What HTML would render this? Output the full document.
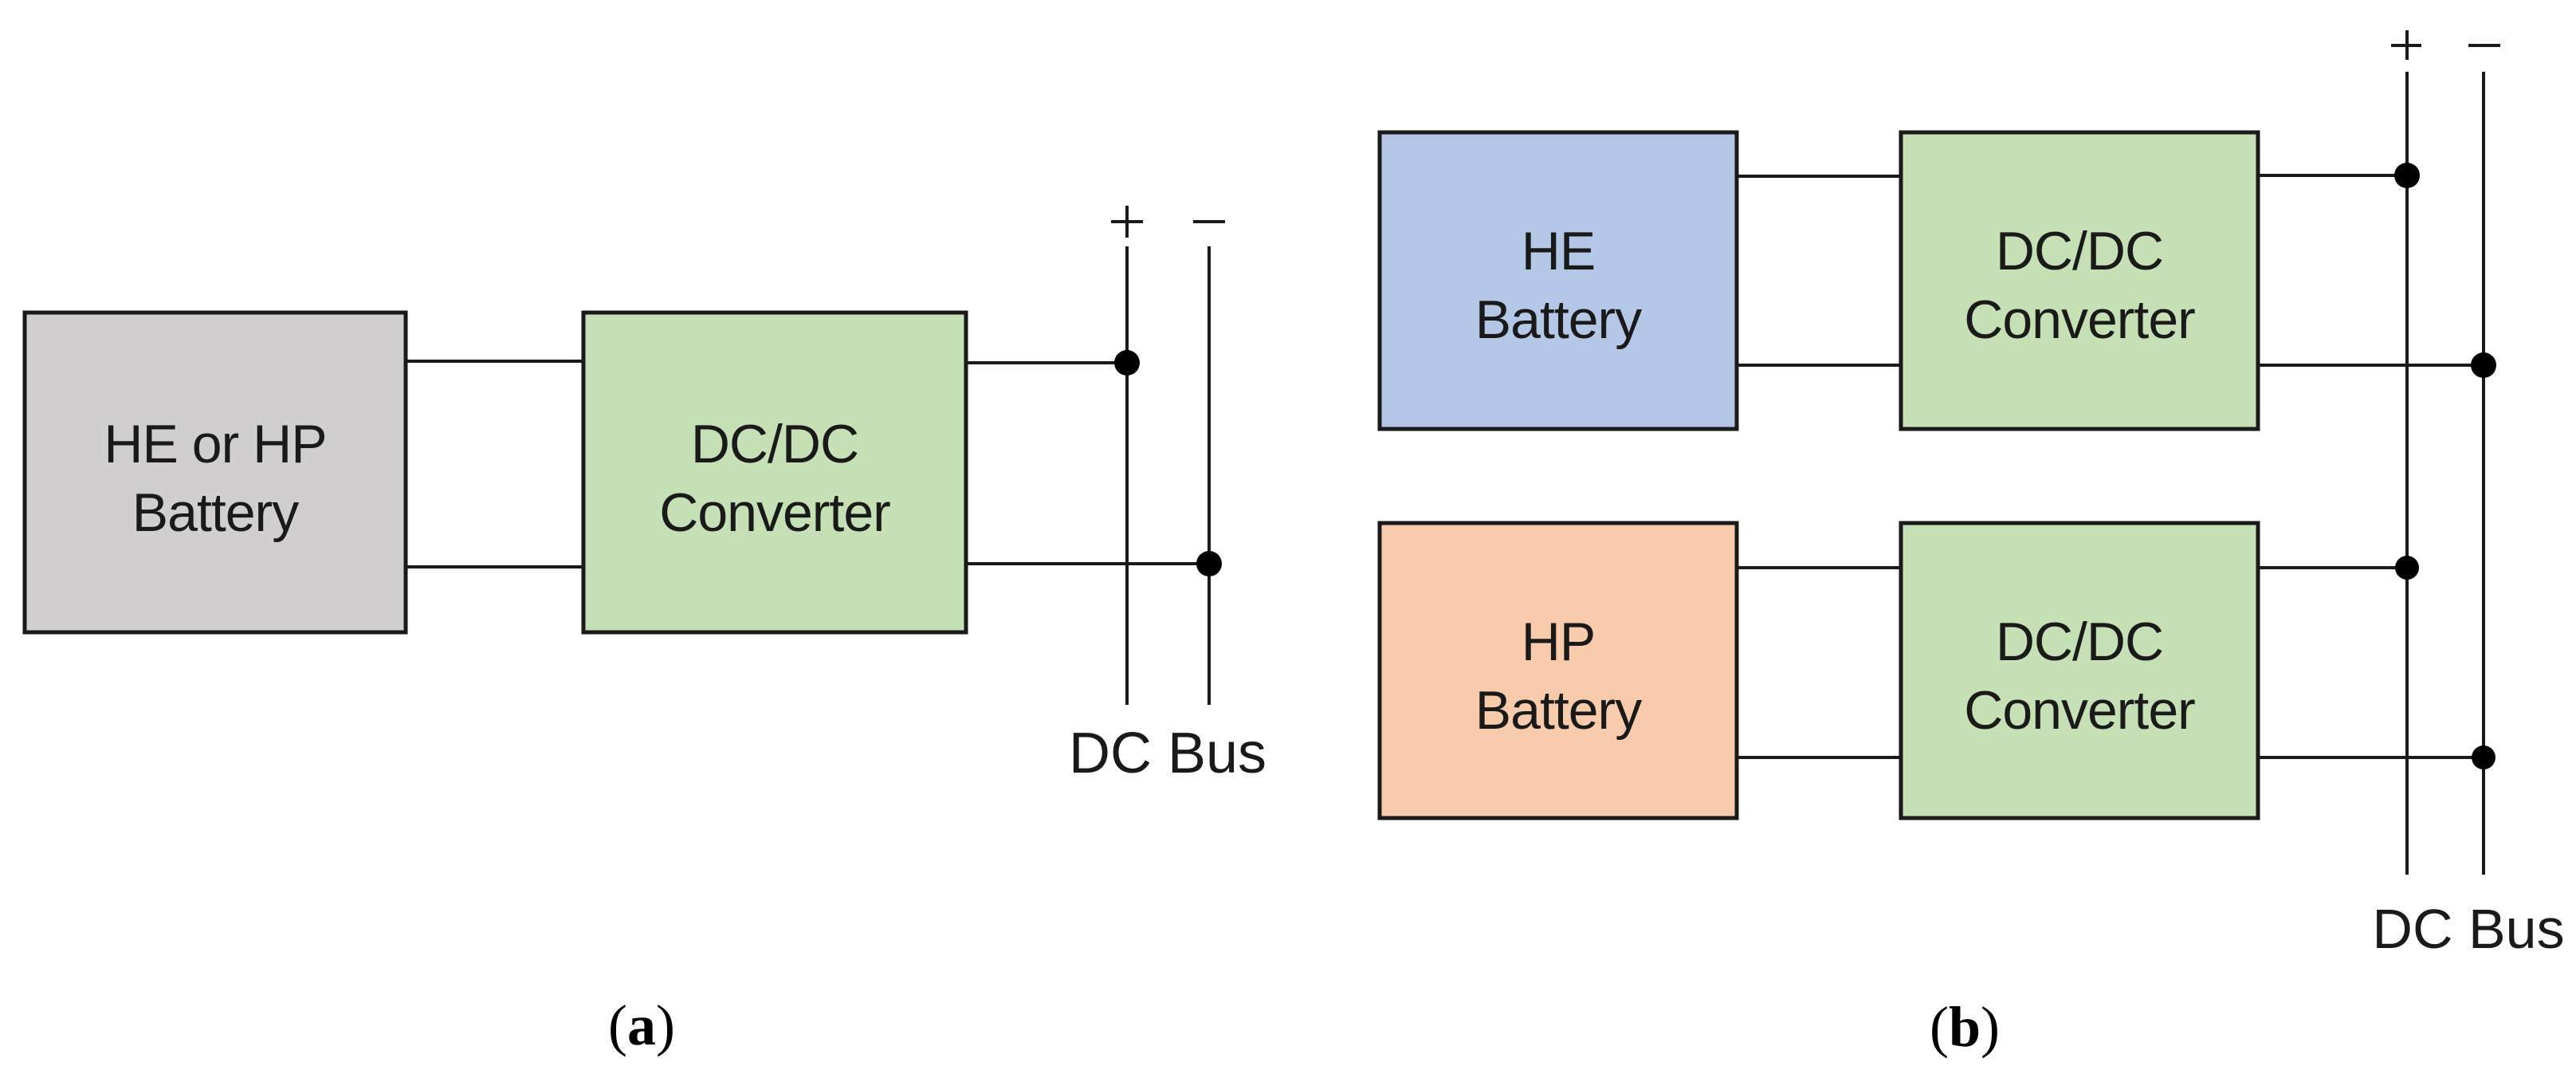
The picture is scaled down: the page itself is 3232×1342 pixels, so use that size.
<!DOCTYPE html>
<html><head><meta charset="utf-8"><style>
html,body{margin:0;padding:0;background:#fff;}
svg{display:block;}
text{font-family:"Liberation Sans",sans-serif;fill:#1a1a1a;}
.s{font-family:"Liberation Serif",serif;fill:#000;}
</style></head><body>
<svg width="3232" height="1342" viewBox="0 0 3232 1342" xmlns="http://www.w3.org/2000/svg">
<g stroke="#1a1a1a" stroke-width="5">
<rect x="31" y="392" width="478" height="401" fill="#d0cece"/>
<rect x="732" y="392" width="480" height="401" fill="#c5e0b4"/>
<rect x="1731" y="166" width="448" height="372" fill="#b4c7e7"/>
<rect x="2385" y="166" width="448" height="372" fill="#c5e0b4"/>
<rect x="1731" y="656" width="448" height="370" fill="#f8cbad"/>
<rect x="2385" y="656" width="448" height="370" fill="#c5e0b4"/>
</g>
<g stroke="#1a1a1a" stroke-width="4" fill="none">
<line x1="509" y1="453" x2="732" y2="453"/>
<line x1="509" y1="711" x2="732" y2="711"/>
<line x1="1212" y1="455" x2="1414" y2="455"/>
<line x1="1212" y1="707" x2="1517" y2="707"/>
<line x1="1414" y1="309" x2="1414" y2="884"/>
<line x1="1517" y1="309" x2="1517" y2="884"/>
<line x1="2179" y1="221" x2="2385" y2="221"/>
<line x1="2179" y1="458" x2="2385" y2="458"/>
<line x1="2179" y1="712" x2="2385" y2="712"/>
<line x1="2179" y1="950" x2="2385" y2="950"/>
<line x1="2833" y1="220" x2="3020" y2="220"/>
<line x1="2833" y1="458" x2="3116" y2="458"/>
<line x1="2833" y1="712" x2="3020" y2="712"/>
<line x1="2833" y1="950" x2="3116" y2="950"/>
<line x1="3020" y1="90" x2="3020" y2="1097"/>
<line x1="3116" y1="90" x2="3116" y2="1097"/>
<line x1="1394" y1="278" x2="1434" y2="278"/><line x1="1414" y1="258" x2="1414" y2="298"/>
<line x1="1497" y1="278" x2="1537" y2="278"/>
<line x1="3000" y1="57" x2="3038" y2="57"/><line x1="3020" y1="38" x2="3020" y2="75"/>
<line x1="3097" y1="57" x2="3137" y2="57"/>
</g>
<g fill="#000">
<circle cx="1414" cy="455" r="16"/>
<circle cx="1517" cy="707" r="16"/>
<circle cx="3020" cy="220" r="16"/>
<circle cx="3116" cy="458" r="16"/>
<circle cx="3020" cy="712" r="15"/>
<circle cx="3116" cy="950" r="15"/>
</g>
<g font-size="68" text-anchor="middle" letter-spacing="-1">
<text x="270" y="580">HE or HP</text>
<text x="270" y="666">Battery</text>
<text x="972" y="580">DC/DC</text>
<text x="972" y="666">Converter</text>
<text x="1955" y="338">HE</text>
<text x="1955" y="424">Battery</text>
<text x="2609" y="338">DC/DC</text>
<text x="2609" y="424">Converter</text>
<text x="1955" y="828">HP</text>
<text x="1955" y="914">Battery</text>
<text x="2609" y="828">DC/DC</text>
<text x="2609" y="914">Converter</text>
</g>
<text x="1465" y="969" font-size="72" text-anchor="middle">DC Bus</text>
<text x="3097" y="1189" font-size="70" text-anchor="middle">DC Bus</text>
<text class="s" x="805" y="1310" font-size="72" text-anchor="middle">(<tspan font-weight="bold">a</tspan>)</text>
<text class="s" x="2465" y="1312" font-size="72" text-anchor="middle">(<tspan font-weight="bold">b</tspan>)</text>
</svg>
</body></html>
